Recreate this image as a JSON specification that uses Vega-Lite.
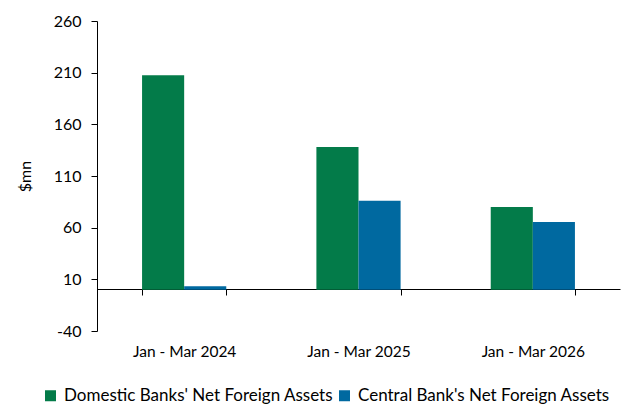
{
  "$schema": "https://vega.github.io/schema/vega-lite/v6.json",
  "width": 523,
  "height": 310,
  "autosize": "none",
  "padding": {"left": 97, "top": 21, "right": 11, "bottom": 75},
  "config": {
    "font": "Lato",
    "view": {"stroke": null},
    "axis": {"labelFont": "Lato", "titleFont": "Lato", "labelColor": "#000000", "titleColor": "#000000", "domainColor": "#000000", "tickColor": "#000000", "grid": false}
  },
  "data": {
    "values": [
      {"period": "Jan - Mar 2024", "series": "Domestic Banks' Net Foreign Assets", "value": 207.5},
      {"period": "Jan - Mar 2024", "series": "Central Bank's Net Foreign Assets", "value": 3.2},
      {"period": "Jan - Mar 2025", "series": "Domestic Banks' Net Foreign Assets", "value": 138},
      {"period": "Jan - Mar 2025", "series": "Central Bank's Net Foreign Assets", "value": 86},
      {"period": "Jan - Mar 2026", "series": "Domestic Banks' Net Foreign Assets", "value": 80},
      {"period": "Jan - Mar 2026", "series": "Central Bank's Net Foreign Assets", "value": 65.5}
    ]
  },
  "mark": {"type": "bar"},
  "encoding": {
    "x": {
      "field": "period", "type": "nominal", "sort": null,
      "scale": {"paddingInner": 0.517, "paddingOuter": 0.2585},
      "axis": {"title": null, "labelAngle": 0, "offset": -42, "tickBand": "extent", "tickSize": 6, "labelPadding": 49, "labelFontSize": 15.5, "domainWidth": 1}
    },
    "xOffset": {"field": "series", "type": "nominal", "sort": ["Domestic Banks' Net Foreign Assets", "Central Bank's Net Foreign Assets"], "scale": {"paddingInner": 0, "paddingOuter": 0}},
    "y": {
      "field": "value", "type": "quantitative",
      "scale": {"domain": [-40, 260], "nice": false, "zero": false},
      "axis": {"title": "$mn", "values": [-40, 10, 60, 110, 160, 210, 260], "labelExpr": "replace(datum.label, '\u2212', '-')", "tickSize": 6, "labelPadding": 10, "labelFontSize": 16, "titleFontSize": 16, "titleFontWeight": "normal", "titlePadding": 20, "domainWidth": 1}
    },
    "color": {
      "field": "series", "type": "nominal",
      "sort": ["Domestic Banks' Net Foreign Assets", "Central Bank's Net Foreign Assets"],
      "scale": {"range": ["#037B49", "#0069A0"]},
      "legend": {"title": null, "orient": "none", "direction": "horizontal", "legendX": -55, "legendY": 366, "symbolType": "square", "symbolSize": 121, "symbolStrokeWidth": 0, "labelFontSize": 17, "labelColor": "#000000", "labelFont": "Lato", "labelLimit": 400, "columnPadding": 2, "symbolOffset": 0, "labelOffset": 5}
    }
  }
}
